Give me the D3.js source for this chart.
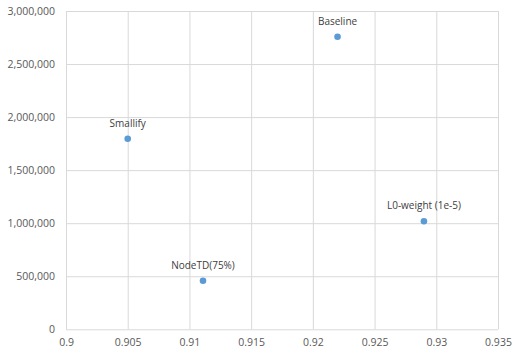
<!DOCTYPE html>
<html><head><meta charset="utf-8">
<script src="https://cdn.jsdelivr.net/npm/d3@7"></script>
<style>body{margin:0;background:#fff}</style>
</head><body>
<svg id="c" width="519" height="355"></svg>
<script>
const names = ["Smallify","NodeTD(75%)","Baseline","L0-weight (1e-5)"];
const xVals = [0.905, 0.9111, 0.922, 0.929];
const yVals = [1796000, 458000, 2758000, 1018000];
const xTicks = [0.9,0.905,0.91,0.915,0.92,0.925,0.93,0.935];
const yTicks = [0,500000,1000000,1500000,2000000,2500000,3000000];

const svg = d3.select("#c");
const m = {l:66, r:498, t:11, b:329.3};
const x = d3.scaleLinear().domain([0.9,0.935]).range([m.l,m.r]);
const y = d3.scaleLinear().domain([0,3000000]).range([m.b,m.t]);
const font = "'Open Sans', sans-serif";

const gx = svg.append("g").attr("transform",`translate(0,${m.b})`)
  .call(d3.axisBottom(x).tickValues(xTicks).tickFormat(d=>String(+d.toFixed(3))).tickSize(-(m.b-m.t)).tickPadding(9));
const gy = svg.append("g").attr("transform",`translate(${m.l},0)`)
  .call(d3.axisLeft(y).tickValues(yTicks).tickFormat(d3.format(",")).tickSize(-(m.r-m.l)).tickPadding(11));
[gx,gy].forEach(g=>{
  g.select(".domain").remove();
  g.selectAll(".tick line").attr("stroke","#d9d9d9").attr("stroke-width",1);
  g.selectAll(".tick text").attr("fill","#595959").style("font-family",font).style("font-size","10.5px");
});

svg.append("g").selectAll("circle").data(names).join("circle")
  .attr("cx",(d,i)=>x(xVals[i])).attr("cy",(d,i)=>y(yVals[i])).attr("r",3.3)
  .attr("fill","#5b9bd5");
svg.append("g").selectAll("text").data(names).join("text")
  .attr("x",(d,i)=>x(xVals[i])).attr("y",(d,i)=>y(yVals[i])-12)
  .attr("text-anchor","middle").attr("fill","#404040")
  .style("font-family",font).style("font-size","10px").text(d=>d);
</script>
</body></html>
